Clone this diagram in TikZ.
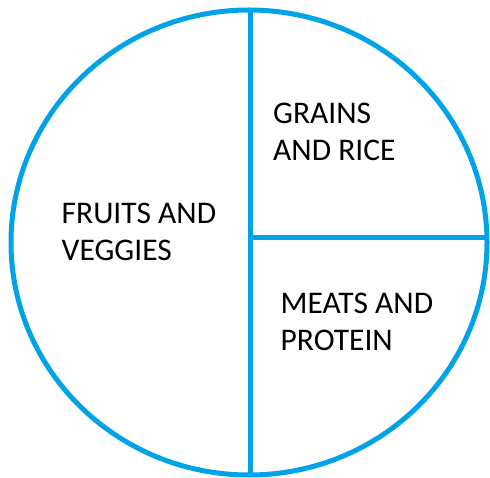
\documentclass[tikz,border=0pt]{standalone}
\usepackage{fontspec}
\setmainfont{Carlito}
\usepackage{xcolor}
\usetikzlibrary{positioning}
\definecolor{plateblue}{RGB}{0,162,232}
\tikzset{
  plateline/.style={draw=plateblue, line width=5pt},
  platelabel/.style={anchor=base west, inner sep=0pt, align=left, font=\fontsize{31.5}{37}\selectfont, text=black}
}

\begin{document}
\begin{tikzpicture}[x=1pt, y=-1pt]
\useasboundingbox (0,0) rectangle (490,478);
\draw[plateline] (249,242.5) ellipse [x radius=238, y radius=232.5];
\draw[plateline] (250,10) -- (250,475);
\draw[plateline] (250,238) -- (487,238);
% base anchor sits on the last line
\node[platelabel] (fruits) at (61.5,261) {FRUITS AND\\VEGGIES};
\node[platelabel] (grains) at (273,160.7) {GRAINS\\AND RICE};
\node[platelabel] (meats) at (280.5,350.7) {MEATS AND\\PROTEIN};
\end{tikzpicture}
\end{document}
